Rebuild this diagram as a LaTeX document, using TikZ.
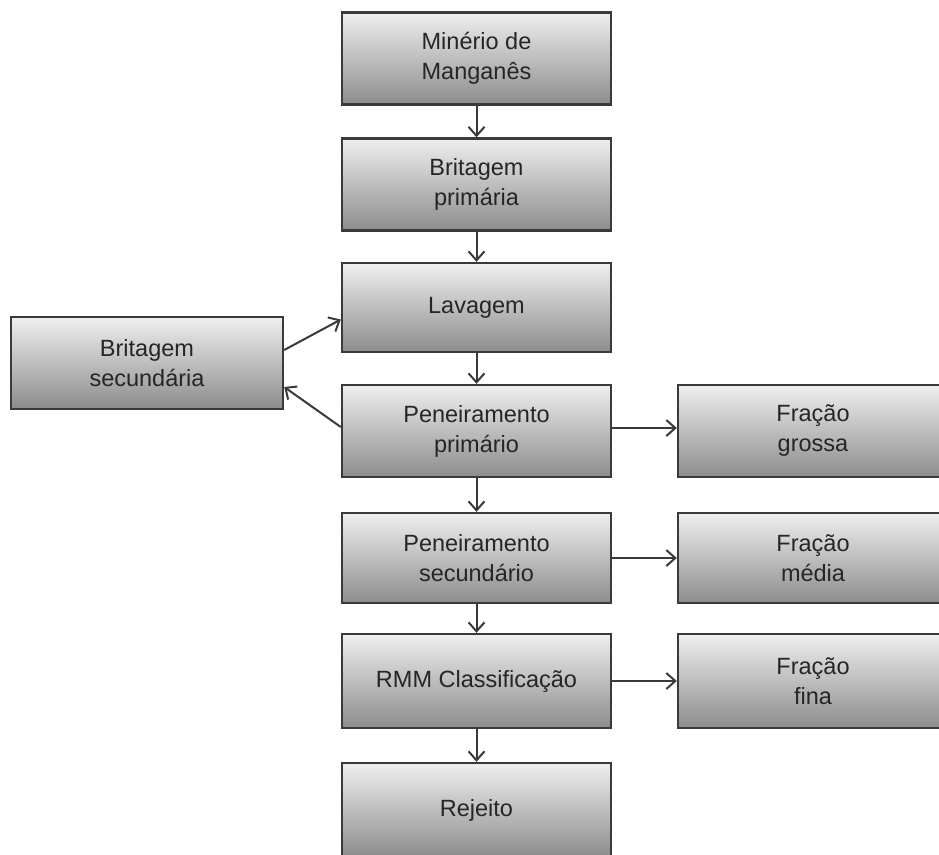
\documentclass[tikz,border=0pt]{standalone}
\usepackage{fontspec}
\setmainfont{Liberation Sans}
\usetikzlibrary{arrows.meta}
\definecolor{boxtop}{HTML}{EFEFEF}
\definecolor{boxbot}{HTML}{8C8C8C}
\definecolor{edge}{HTML}{3A3A3A}
\begin{document}
\begin{tikzpicture}[x=1pt,y=-1pt,
  proc/.style={draw=edge, line width=2.4pt, top color=boxtop, bottom color=boxbot,
    minimum width=269pt, minimum height=92pt, inner sep=0pt, align=center,
    text=black!85, font=\fontsize{23.5}{30}\selectfont},
  flow/.style={draw=edge, line width=2pt, -{Straight Barb[length=9pt,width=16pt,line width=2pt]}}]
\useasboundingbox (0,0) rectangle (939,854);
\clip (0,0) rectangle (939,854);
\fill[white] (0,0) rectangle (939,854);
% main column
\node[proc] (b1) at (476.5,58.5) {Minério de\\Manganês};
\node[proc] (b2) at (476.5,184.5) {Britagem\\primária};
\node[proc, minimum height=89pt] (b3) at (476.5,307.5) {Lavagem};
\node[proc] (b4) at (476.5,431) {Peneiramento\\primário};
\node[proc, minimum height=90pt] (b5) at (476.5,558) {Peneiramento\\secundário};
\node[proc, minimum height=94pt] (b6) at (476.5,681) {RMM Classificação};
\node[proc, minimum height=94pt] (b7) at (476.5,810) {Rejeito};
% left
\node[proc, minimum width=272pt] (bs) at (147,363) {Britagem\\secundária};
% right
\node[proc, minimum width=270pt] (fg) at (813,431) {Fração\\grossa};
\node[proc, minimum width=270pt, minimum height=90pt] (fm) at (813,558) {Fração\\média};
\node[proc, minimum width=270pt, minimum height=94pt] (ff) at (813,681) {Fração\\fina};
% connectors
\draw[flow] (b1) -- (b2);
\draw[flow] (b2) -- (b3);
\draw[flow] (b3) -- (b4);
\draw[flow] (b4) -- (b5);
\draw[flow] (b5) -- (b6);
\draw[flow] (b6) -- (b7);
\draw[flow] ([yshift=3pt]b4.east) -- ([yshift=3pt]fg.west);
\draw[flow] (b5.east) -- (fm.west);
\draw[flow] (b6.east) -- (ff.west);
\draw[flow] ([yshift=13pt]bs.east) -- ([yshift=-12pt]b3.west);
\draw[flow] ([yshift=4pt]b4.west) -- ([yshift=-24pt]bs.east);
\end{tikzpicture}
\end{document}
